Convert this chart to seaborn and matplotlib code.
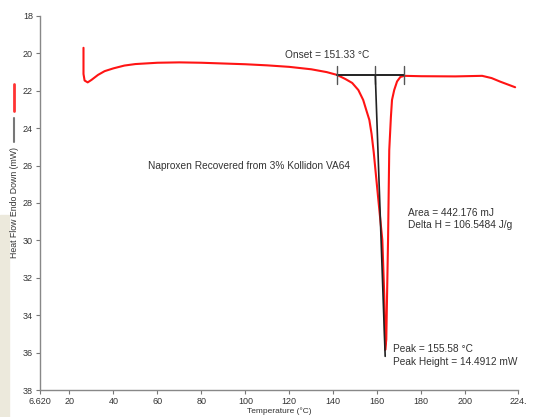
import matplotlib
matplotlib.use("Agg")
import matplotlib.pyplot as plt
from matplotlib.lines import Line2D
from matplotlib.patches import Rectangle
import pandas as pd
import seaborn as sns

# DSC trace (temperature in degC, heat flow in mW, endo down)
temperature = [26.4, 26.4, 26.9, 28.3, 30, 33, 36, 40, 45, 50, 60, 70, 80, 90,
               100, 110, 120, 130, 137, 141.7, 145.5, 148.6, 151.4, 153.6, 155,
               156.4, 157.4, 158.4, 160.5, 162.3, 163.2, 163.6, 164.1, 164.9,
               165.45, 166.2, 166.7, 167.7, 169, 170.5, 172.3, 180, 195.5, 207.7,
               212, 215.9, 222.7]
heat_flow = [19.7, 21.1, 21.45, 21.55, 21.42, 21.15, 20.95, 20.8, 20.65, 20.57,
             20.5, 20.48, 20.5, 20.54, 20.58, 20.64, 20.72, 20.85, 21.0, 21.15,
             21.37, 21.58, 21.96, 22.49, 23.03, 23.56, 24.3, 25.3, 27.84, 29.98,
             33.0, 35.86, 35.3, 29.98, 25.17, 23.4, 22.49, 21.96, 21.5, 21.26,
             21.2, 21.22, 21.23, 21.2, 21.32, 21.51, 21.81]

# onset construction: left limit, onset mark, right limit, baseline level
onset_marks = [141.7, 159.1, 172.3]
baseline_level = 21.15
drop_line_x = [159.1, 163.6]
drop_line_y = [21.15, 36.2]

x_ticks = [6.62, 20, 40, 60, 80, 100, 120, 140, 160, 180, 200, 224]
x_tick_labels = ["6.620", "20", "40", "60", "80", "100", "120", "140", "160",
                 "180", "200", "224."]
y_ticks = [18, 20, 22, 24, 26, 28, 30, 32, 34, 36, 38]

df = pd.DataFrame({"Temperature": temperature, "HeatFlow": heat_flow})

sns.set_style("white")
plt.rcParams["font.family"] = ["Liberation Sans", "DejaVu Sans"]

fig = plt.figure(figsize=(5.48, 4.17), dpi=100)
ax = fig.add_axes([40 / 548, 27 / 417, 478 / 548, 374 / 417])

sns.lineplot(data=df, x="Temperature", y="HeatFlow", sort=False,
             estimator=None, color="#ff1414", lw=1.5, ax=ax)

# onset baseline and ticks
ax.plot([onset_marks[0], onset_marks[2]], [baseline_level, baseline_level],
        color="#222222", lw=1.4)
for xm in onset_marks:
    ax.plot([xm, xm], [baseline_level - 0.45, baseline_level + 0.5],
            color="#555555", lw=1.0)
ax.plot(drop_line_x, drop_line_y, color="#222222", lw=1.2)

txt = dict(fontsize=7.3, color="#333333")
ax.text(118.2, 20.1, "Onset = 151.33 °C", va="center", **txt)
ax.text(55.9, 26.0, "Naproxen Recovered from 3% Kollidon VA64", va="center", **txt)
ax.text(174.1, 28.53, "Area = 442.176 mJ", va="center", **txt)
ax.text(174.1, 29.18, "Delta H = 106.5484 J/g", va="center", **txt)
ax.text(167.3, 35.8, "Peak = 155.58 °C", va="center", **txt)
ax.text(167.3, 36.5, "Peak Height = 14.4912 mW", va="center", **txt)

ax.set_xlim(6.62, 224)
ax.set_ylim(38, 18)
ax.set_xticks(x_ticks)
ax.set_xticklabels(x_tick_labels)
ax.set_yticks(y_ticks)
ax.tick_params(axis="both", labelsize=6.5, length=3, width=0.8,
               color="#777777", labelcolor="#333333", pad=2)
ax.tick_params(axis="both", bottom=True, left=True)
for s in ["top", "right"]:
    ax.spines[s].set_visible(False)
for s in ["left", "bottom"]:
    ax.spines[s].set_color("#888888")
    ax.spines[s].set_linewidth(1.0)
ax.set_xlabel("Temperature (°C)", fontsize=6, color="#333333", labelpad=1)
ax.set_ylabel("")

fig.text(15 / 548, 1 - 202 / 417, "Heat Flow Endo Down (mW)", rotation=90,
         ha="center", va="center", fontsize=6.3, color="#333333")

# legend marks on the left side
fig.add_artist(Line2D([14 / 548, 14 / 548], [1 - 84 / 417, 1 - 111 / 417],
                      color="#ff3333", lw=2))
fig.add_artist(Line2D([14 / 548, 14 / 548], [1 - 118 / 417, 1 - 142 / 417],
                      color="#777777", lw=1.5))

# beige slide strip at the left edge
fig.add_artist(Rectangle((0, 0), 9 / 548, (417 - 215) / 417,
                         transform=fig.transFigure, color="#ece9dc", zorder=0))

plt.savefig("out.png", dpi=100)
plt.close()
